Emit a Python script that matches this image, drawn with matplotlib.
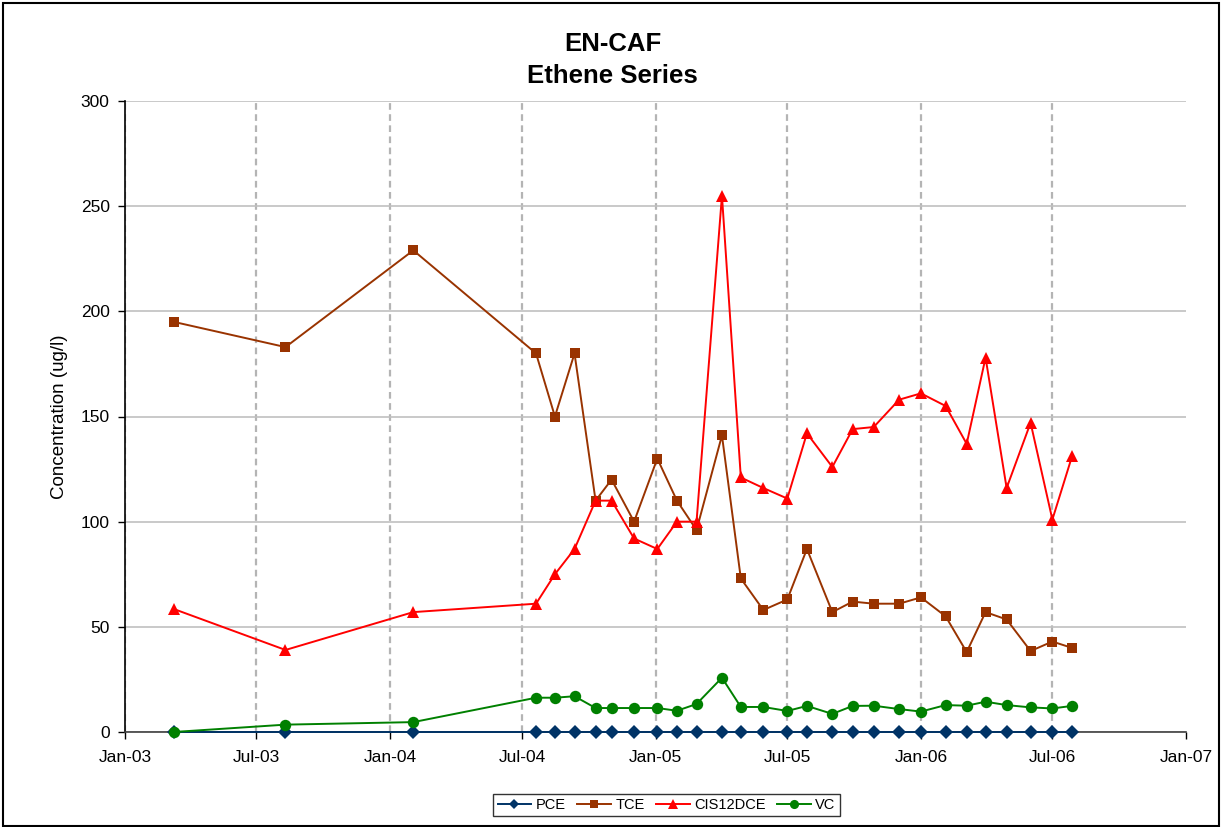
import datetime as dt
import matplotlib
matplotlib.use("Agg")
import matplotlib.pyplot as plt
import matplotlib.dates as mdates
from matplotlib.patches import Rectangle

plt.rcParams["font.family"] = ["Liberation Sans", "DejaVu Sans"]

# sampling dates
dates = [
    "2003-03-09", "2003-08-10", "2004-02-02", "2004-07-20", "2004-08-15",
    "2004-09-11", "2004-10-10", "2004-11-01", "2004-12-02", "2005-01-03",
    "2005-01-30", "2005-02-26", "2005-04-02", "2005-04-28", "2005-05-29",
    "2005-07-01", "2005-07-28", "2005-09-01", "2005-09-29", "2005-10-28",
    "2005-12-02", "2006-01-01", "2006-02-04", "2006-03-05", "2006-03-31",
    "2006-04-29", "2006-06-01", "2006-07-01", "2006-07-28",
]

pce = [0, 0, 0, 0, 0, 0, 0, 0, 0, 0, 0, 0, 0, 0, 0,
       0, 0, 0, 0, 0, 0, 0, 0, 0, 0, 0, 0, 0, 0]
tce = [195, 183, 229, 180, 150, 180, 110, 120, 100, 130, 110, 96, 141, 73, 58,
       63, 87, 57, 62, 61, 61, 64, 55, 38, 57, 53.5, 38.5, 43, 40]
cis12dce = [58.5, 39, 57, 61, 75, 87, 110, 110, 92, 87, 100, 100, 255, 121, 116,
            111, 142, 126, 144, 145, 158, 161, 155, 137, 178, 116, 147, 101, 131]
vc = [0, 3.5, 4.7, 16.3, 16.3, 17, 11.4, 11.4, 11.4, 11.4, 10.1, 13.3, 25.8, 11.9, 11.9,
      10, 12.4, 8.6, 12.4, 12.5, 10.9, 9.7, 12.8, 12.5, 14.4, 12.8, 11.7, 11.2, 12.4]

x = [dt.datetime.strptime(d, "%Y-%m-%d") for d in dates]

W, H = 1225, 827
fig = plt.figure(figsize=(W / 100, H / 100), dpi=100)
ax = fig.add_axes([125 / W, 1 - 732 / H, (1186 - 125) / W, (732 - 101) / H])

series = [
    ("PCE", pce, "#003366", "D", 7.0),
    ("TCE", tce, "#993300", "s", 7.8),
    ("CIS12DCE", cis12dce, "#FF0000", "^", 9.0),
    ("VC", vc, "#008000", "o", 8.2),
]
for i, (name, vals, col, mk, ms) in enumerate(series):
    ax.plot(x, vals, color=col, marker=mk, markersize=ms, linewidth=1.4,
            markeredgewidth=0, label=name, clip_on=False, zorder=5 + i)

ax.set_xlim(dt.datetime(2003, 1, 1), dt.datetime(2007, 1, 1))
ax.set_ylim(0, 300)
ax.set_yticks(range(0, 301, 50))
ax.xaxis.set_major_locator(mdates.MonthLocator(bymonth=[1, 7]))
ax.xaxis.set_major_formatter(mdates.DateFormatter("%b-%y"))

ax.grid(axis="y", color="#c0c0c0", linewidth=1.2, linestyle="-")
ax.grid(axis="x", color="#b4b4b4", linewidth=1.6, linestyle=(0, (3, 2)))
ax.set_axisbelow(True)
# no dashed line on the right-hand edge
ax.xaxis.get_major_ticks()[-1].gridline.set_visible(False)

for s in ("top", "right"):
    ax.spines[s].set_visible(False)
ax.spines["left"].set_color("black")
ax.spines["left"].set_linewidth(1.2)
ax.spines["bottom"].set_color("#404040")
ax.spines["bottom"].set_linewidth(1.2)

ax.tick_params(axis="both", direction="out", length=5, width=1.0, labelsize=12.5,
               color="black")
ax.tick_params(axis="x", pad=8)
ax.tick_params(axis="y", pad=6)

ax.set_ylabel("Concentration (ug/l)", fontsize=13.5)
ax.yaxis.set_label_coords((68 - 125) / (1186 - 125), 0.5)

fig.text(0.5, 1 - 44 / H, "EN-CAF", ha="center", va="center",
         fontsize=18.5, fontweight="bold")
fig.text(0.5, 1 - 76 / H, "Ethene Series", ha="center", va="center",
         fontsize=18.5, fontweight="bold")

leg = fig.legend(loc="center", bbox_to_anchor=(666.5 / W, 1 - 805 / H), ncol=4,
                 fontsize=10.5, frameon=True, fancybox=False, edgecolor="black",
                 handlelength=2.3, handletextpad=0.3, columnspacing=0.8,
                 borderpad=0.3, markerscale=0.8)
leg.get_frame().set_linewidth(1.0)

# chart border
fig.patches.append(Rectangle((3 / W, 1 / H), (1219 - 3) / W, (824 - 1) / H,
                             transform=fig.transFigure, fill=False,
                             edgecolor="black", linewidth=1.5))

fig.savefig("out.png", dpi=100)
